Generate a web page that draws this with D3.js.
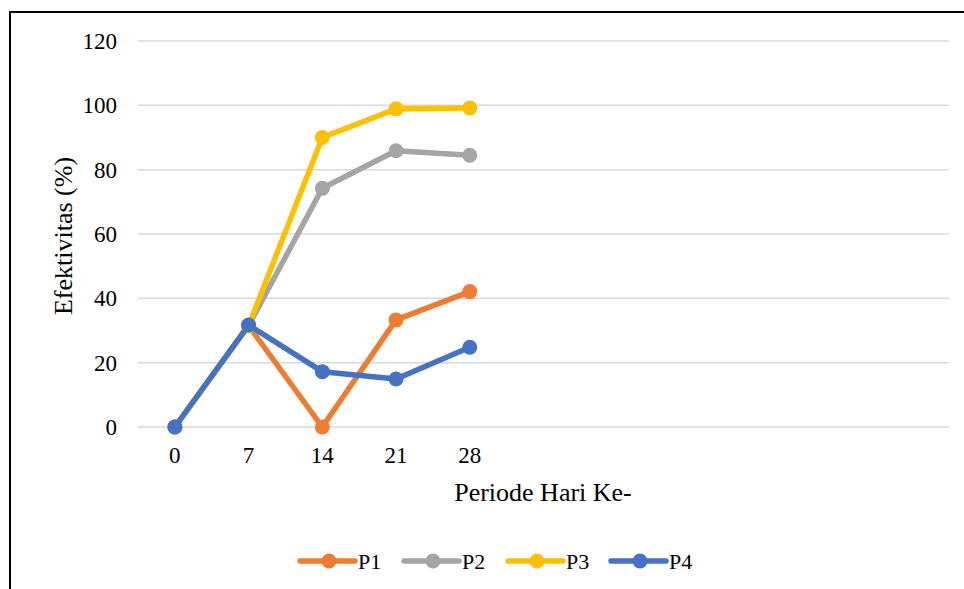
<!DOCTYPE html>
<html><head><meta charset="utf-8">
<script src="https://cdn.jsdelivr.net/npm/d3@7"></script>
<style>body{margin:0;background:#fff}svg{display:block}
svg text{font-family:"Liberation Serif","Times New Roman",serif;fill:#000}</style>
</head><body>
<svg id="c" width="964" height="589"></svg>
<script>
const categories = ["0","7","14","21","28","","","","","",""];
const seriesNames = ["P1","P2","P3","P4"];
const colors = ["#ED7D31","#A5A5A5","#FFC000","#4472C4"];
const P1 = [0, 31.5, 0, 33.3, 42.1];
const P2 = [0, 31.5, 74.2, 85.9, 84.5];
const P3 = [0, 31.5, 90, 98.9, 99.2];
const P4 = [0, 31.7, 17.2, 14.9, 24.8];
const yTicks = [0,20,40,60,80,100,120];
const seriesValues = [P1,P2,P3,P4];

(function(){
const svg = d3.select("#c");
svg.append("rect").attr("x",10).attr("y",12).attr("width",1000).attr("height",700)
  .attr("fill","none").attr("stroke","#000").attr("stroke-width",2);

const pL=138, pR=949, pT=41, pB=427;
const x = d3.scaleBand().domain(categories.map((c,i)=>i)).range([pL,pR]);
const y = d3.scaleLinear().domain([0,120]).range([pB,pT]);

const g = svg.append("g");
g.selectAll("line.grid").data(yTicks).join("line")
  .attr("x1",pL).attr("x2",pR).attr("y1",d=>y(d)).attr("y2",d=>y(d))
  .attr("stroke","#D9D9D9").attr("stroke-width",1.5);

g.selectAll("text.yt").data(yTicks).join("text")
  .attr("x",117).attr("y",d=>y(d)+8).attr("text-anchor","end")
  .attr("font-size",23).text(d=>d);

g.selectAll("text.xt").data(categories.map((c,i)=>({c,i}))).join("text")
  .attr("x",d=>x(d.i)+x.bandwidth()/2).attr("y",463).attr("text-anchor","middle")
  .attr("font-size",23).text(d=>d.c);

svg.append("text").attr("x",543).attr("y",501).attr("text-anchor","middle")
  .attr("font-size",26).text("Periode Hari Ke-");
svg.append("text").attr("transform","translate(72,236) rotate(-90)").attr("text-anchor","middle")
  .attr("font-size",26).text("Efektivitas (%)");

const line = d3.line().x((d,i)=>x(i)+x.bandwidth()/2).y(d=>y(d));
seriesValues.forEach((vals,si)=>{
  const sg = svg.append("g");
  sg.append("path").attr("d",line(vals)).attr("fill","none").attr("stroke",colors[si])
    .attr("stroke-width",5.5).attr("stroke-linejoin","round").attr("stroke-linecap","round");
  sg.selectAll("circle").data(vals).join("circle")
    .attr("cx",(d,i)=>x(i)+x.bandwidth()/2).attr("cy",d=>y(d)).attr("r",7.5).attr("fill",colors[si]);
});

const legX = [300,404,508,611];
seriesNames.forEach((n,i)=>{
  const lg = svg.append("g");
  lg.append("line").attr("x1",legX[i]).attr("x2",legX[i]+55).attr("y1",561).attr("y2",561)
    .attr("stroke",colors[i]).attr("stroke-width",5.5).attr("stroke-linecap","round");
  lg.append("circle").attr("cx",legX[i]+29).attr("cy",561).attr("r",7.5).attr("fill",colors[i]);
  lg.append("text").attr("x",legX[i]+58).attr("y",569)
    .attr("font-size",22).text(n);
});
})();
</script>
</body></html>
